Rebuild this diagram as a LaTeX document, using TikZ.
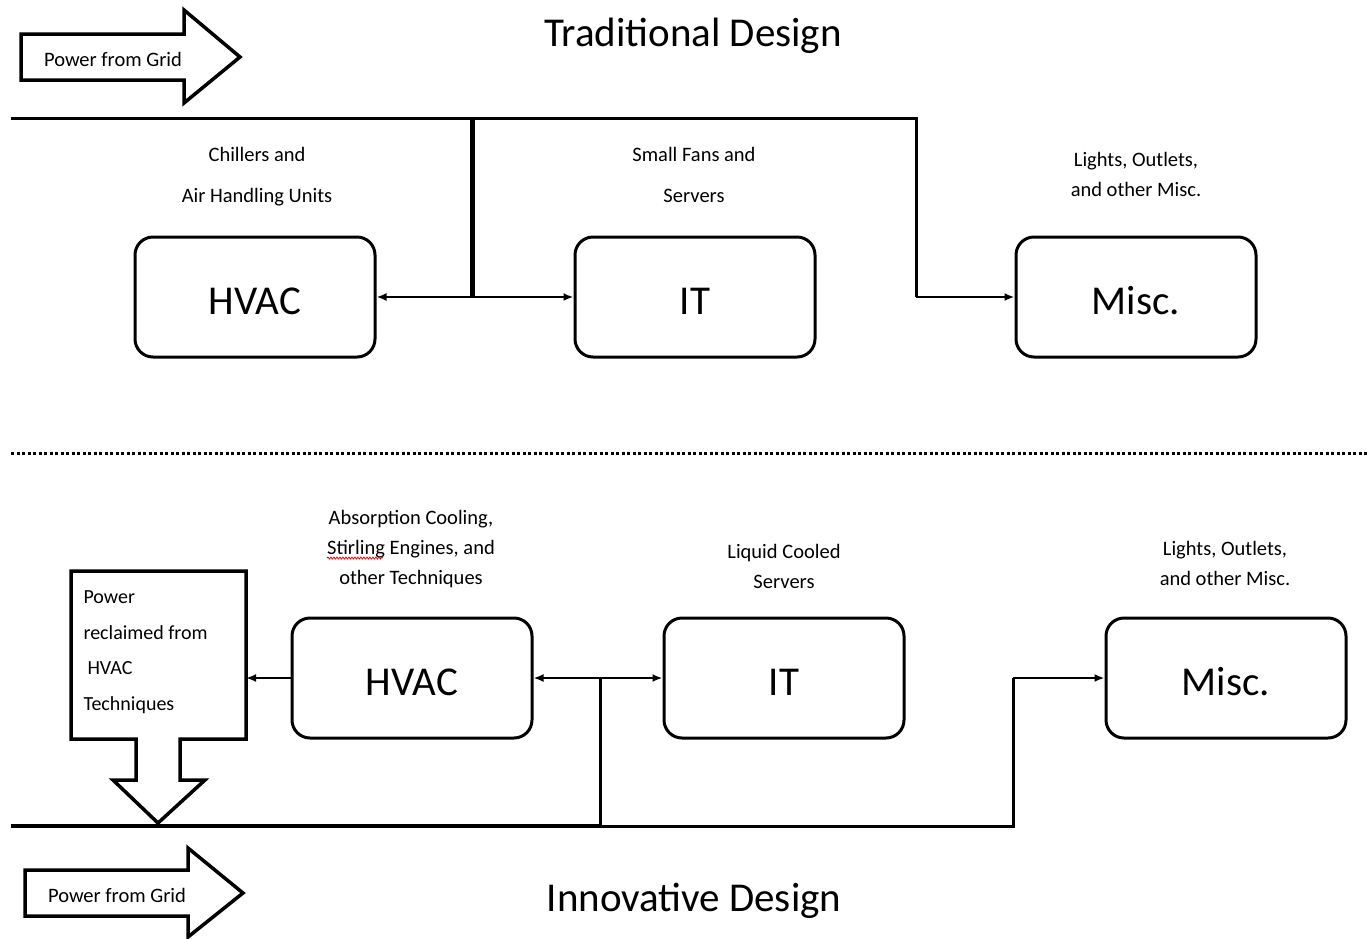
\documentclass[tikz,border=0pt]{standalone}
\usepackage{fontspec}
\setmainfont{Carlito}
\usetikzlibrary{arrows.meta,decorations.pathmorphing}
\begin{document}
\begin{tikzpicture}[x=1pt, y=-1pt,
		unit/.style={draw, line width=3pt, rounded corners=18pt, minimum width=240pt, minimum height=120pt, text height=35pt, text depth=0pt, font=\fontsize{41}{41}\selectfont},
		note/.style={align=center, anchor=base, font=\fontsize{20.5}{30}\selectfont},
		title/.style={anchor=base, font=\fontsize{41}{41}\selectfont},
		bus/.style={line width=3pt},
		feed/.style={line width=2.5pt, -{Latex[length=10pt,width=8pt]}},
		feeds/.style={line width=2.5pt, {Latex[length=10pt,width=8pt]}-{Latex[length=10pt,width=8pt]}},
		block/.style={line width=3.5pt, line join=miter}
		]
	\useasboundingbox (0,0) rectangle (1368,938);
	% traditional design
	\node [title] (tradTitle) at (693,46) {Traditional Design};
	\draw [block] (21,34) -- (184,34) -- (184,10) -- (240,57) -- (184,103) -- (184,80) -- (21,80) -- cycle;
	\node [note] (gridTop) at (113,66) {Power from Grid};
	\node [unit] (hvacA) at (255,297) {HVAC};
	\node [unit] (itA) at (695,297) {IT};
	\node [unit] (miscA) at (1136,297) {Misc.};
	\node [note, font=\fontsize{20.5}{41}\selectfont] (hvacAnote) at (257,202) {Chillers and\\Air Handling Units};
	\node [note, font=\fontsize{20.5}{41}\selectfont] (itAnote) at (694,202) {Small Fans and\\Servers};
	\node [note] (miscAnote) at (1136,196) {Lights, Outlets,\\and other Misc.};
	\coordinate (tapA) at (472,297);
	\coordinate (tapB) at (916,297);
	\draw [bus] (11,118) -- (916,118) -- (tapB);
	\draw [line width=5pt] (472,118) -- (tapA);
	\draw [feeds] (hvacA) -- (itA);
	\draw [feed] (tapB) -- (miscA);
	% separator
	\draw [line width=3pt, dash pattern=on 3pt off 2.5pt] (11,453) -- (1368,453);
	% innovative design
	\node [title] (innoTitle) at (694,911) {Innovative Design};
	\draw [block] (25,870) -- (188,870) -- (188,848) -- (243,893) -- (188,937) -- (188,916) -- (25,916) -- cycle;
	\node [note] (gridBot) at (117,902) {Power from Grid};
	\node [unit] (hvacB) at (412,678) {HVAC};
	\node [unit] (itB) at (784,678) {IT};
	\node [unit] (miscB) at (1226,678) {Misc.};
	\node [note] (hvacBnote) at (411,584) {Absorption Cooling,\\Stirling Engines, and\\other Techniques};
	\draw [red, line width=0.8pt, decorate, decoration={snake, amplitude=1pt, segment length=3pt}] (327,558) -- (383,558);
	\node [note] (itBnote) at (784,588) {Liquid Cooled\\Servers};
	\node [note] (miscBnote) at (1225,585) {Lights, Outlets,\\and other Misc.};
	\draw [block] (71,571) -- (246,571) -- (246,739) -- (180,739) -- (180,780) -- (205,780) -- (158,823) -- (113,780) -- (136,780) -- (136,739) -- (71,739) -- cycle;
	\node [note, align=left, anchor=base west, font=\fontsize{20}{35.5}\selectfont] (reclaim) at (80,710) {Power\\reclaimed from\\\hspace*{4pt}HVAC\\Techniques};
	\coordinate (reclaimIn) at (246,678);
	\coordinate (tapC) at (600,678);
	\coordinate (tapD) at (1013,678);
	\draw [line width=3.5pt] (11,826) -- (600,826);
	\draw [bus] (600,826) -- (tapC);
	\draw [bus] (600,826) -- (1013,826) -- (tapD);
	\draw [feed] (hvacB) -- (reclaimIn);
	\draw [feeds] (hvacB) -- (itB);
	\draw [feed] (tapD) -- (miscB);
\end{tikzpicture}
\end{document}
